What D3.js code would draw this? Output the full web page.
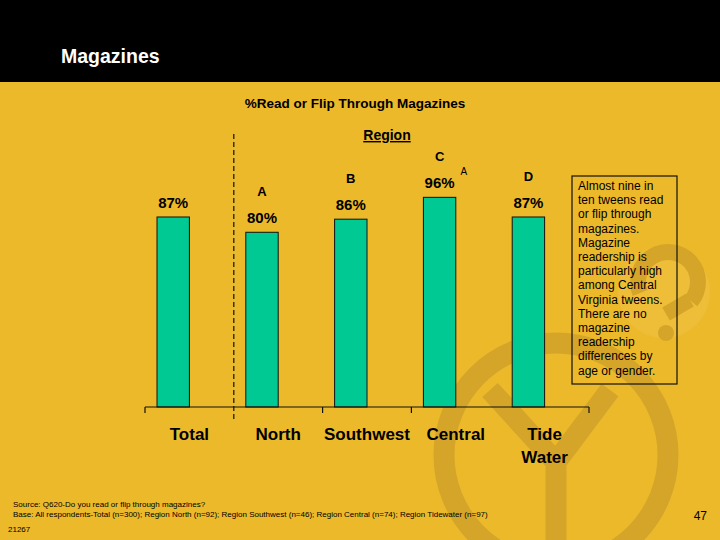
<!DOCTYPE html>
<html>
<head>
<meta charset="utf-8">
<script src="https://cdn.jsdelivr.net/npm/d3@7/dist/d3.min.js"></script>
<style>
  html, body { margin: 0; padding: 0; background: #ecb92b; }
  svg { display: block; font-family: "Liberation Sans", Arial, sans-serif; }
</style>
</head>
<body>
<svg id="chart" width="720" height="540"></svg>
<script>
// data
const categories = ['Total', 'North', 'Southwest', 'Central', 'Tide Water'];
const values = [87, 80, 86, 96, 87];
const sigLetters = ['', 'A', 'B', 'C', 'D'];
const sigSuper = ['', '', '', 'A', ''];
const calloutLines = [
	'Almost nine in', 'ten tweens read', 'or flip through', 'magazines.',
	'Magazine', 'readership is', 'particularly high', 'among Central',
	'Virginia tweens.', 'There are no', 'magazine', 'readership',
	'differences by', 'age or gender.'
];
const sourceLines = [
	'Source: Q620-Do you read or flip through magazines?',
	'Base: All respondents-Total (n=300); Region North (n=92); Region Southwest (n=46); Region Central (n=74); Region Tidewater (n=97)'
];

const W = 720, H = 540;
const bg = '#ecb92b', mark = '#d5a52a', teal = '#00c994';

const svg = d3.select('#chart');

svg.append('rect').attr('width', W).attr('height', H).attr('fill', bg);

// watermark logo (ring + Y + question mark)
let wm = svg.append('g').attr('fill', 'none').attr('stroke', mark);
wm.append('circle').attr('cx', 556).attr('cy', 455).attr('r', 112).attr('stroke-width', 21);
wm.append('path').attr('d', 'M490,390 L556,462 L610,390 M556,462 L556,545').attr('stroke-width', 21);
wm.append('circle').attr('cx', 664).attr('cy', 292).attr('r', 46).attr('fill', '#eebe38').attr('stroke', 'none');
wm.append('path')
	.attr('d', d3.arc()({ innerRadius: 22, outerRadius: 38, startAngle: -Math.PI * 0.62, endAngle: Math.PI * 0.72 }))
	.attr('transform', 'translate(668,282)').attr('fill', mark).attr('stroke', 'none');
wm.append('path').attr('d', 'M690,300 L666,314').attr('stroke-width', 15);
wm.append('circle').attr('cx', 666).attr('cy', 333).attr('r', 8).attr('fill', mark).attr('stroke', 'none');

// header band
svg.append('rect').attr('width', W).attr('height', 82).attr('fill', '#000');
svg.append('text').attr('x', 61).attr('y', 63)
	.attr('fill', '#fff').attr('font-size', 19.5).attr('font-weight', 'bold')
	.text('Magazines');

svg.append('text').attr('x', 355).attr('y', 108).attr('text-anchor', 'middle')
	.attr('font-size', 13.5).attr('font-weight', 'bold')
	.text('%Read or Flip Through Magazines');

svg.append('text').attr('x', 387).attr('y', 140).attr('text-anchor', 'middle')
	.attr('font-size', 14).attr('font-weight', 'bold')
	.attr('text-decoration', 'underline')
	.text('Region');

// scales
const x = d3.scaleBand().domain(categories).range([145, 589]);
const y = d3.scaleLinear().domain([0, 100]).range([407, 188.6]);
const barW = x.bandwidth() / 2 - 12;
const barX = d => x(d) + 12;
const barC = d => barX(d) + barW / 2;

const data = categories.map((c, i) => ({ cat: c, value: values[i], letter: sigLetters[i], sup: sigSuper[i] }));

// bars
svg.append('g').selectAll('rect').data(data).join('rect')
	.attr('x', d => barX(d.cat))
	.attr('y', d => y(d.value))
	.attr('width', barW)
	.attr('height', d => y(0) - y(d.value))
	.attr('fill', teal)
	.attr('stroke', '#111').attr('stroke-width', 1);

// value labels
svg.append('g').selectAll('text').data(data).join('text')
	.attr('x', d => barC(d.cat))
	.attr('y', d => y(d.value) - 9)
	.attr('text-anchor', 'middle')
	.attr('font-size', 15).attr('font-weight', 'bold')
	.text(d => d.value + '%');

// significance letters
svg.append('g').selectAll('text').data(data.filter(d => d.letter)).join('text')
	.attr('x', d => barC(d.cat))
	.attr('y', d => y(d.value) - 36)
	.attr('text-anchor', 'middle')
	.attr('font-size', 13).attr('font-weight', 'bold')
	.text(d => d.letter);

svg.append('g').selectAll('text').data(data.filter(d => d.sup)).join('text')
	.attr('x', d => barC(d.cat) + 21)
	.attr('y', d => y(d.value) - 22)
	.attr('font-size', 10)
	.text(d => d.sup);

// axis: baseline with a few boundary ticks
let axis = svg.append('g').attr('stroke', '#111').attr('stroke-width', 1.2);
axis.append('line').attr('x1', x.range()[0]).attr('x2', x.range()[1])
	.attr('y1', y(0)).attr('y2', y(0));
let tickXs = [x.range()[0], x(categories[2]), x(categories[3]), x.range()[1]];
axis.selectAll('.tick').data(tickXs).join('line')
	.attr('x1', d => d).attr('x2', d => d)
	.attr('y1', y(0)).attr('y2', y(0) + 6);

// dashed divider between total and regions
svg.append('line')
	.attr('x1', x(categories[1])).attr('x2', x(categories[1]))
	.attr('y1', 134).attr('y2', 420)
	.attr('stroke', '#111').attr('stroke-width', 1.2)
	.attr('stroke-dasharray', '5,3');

// category labels
svg.append('g').selectAll('text').data(categories).join('text')
	.attr('x', d => x(d) + x.bandwidth() / 2)
	.attr('y', 440)
	.attr('text-anchor', 'middle')
	.attr('font-size', 17).attr('font-weight', 'bold')
	.selectAll('tspan').data(d => d.split(' ')).join('tspan')
	.attr('x', function() { return d3.select(this.parentNode).attr('x'); })
	.attr('dy', (d, i) => i ? 23 : 0)
	.text(d => d);

// callout box
svg.append('rect').attr('x', 572).attr('y', 176).attr('width', 105).attr('height', 208)
	.attr('fill', 'none').attr('stroke', '#111').attr('stroke-width', 1.2);
svg.append('g').selectAll('text').data(calloutLines).join('text')
	.attr('x', 578).attr('y', (d, i) => 190 + i * 14.2)
	.attr('font-size', 12)
	.text(d => d);

// footer
svg.append('g').selectAll('text').data(sourceLines).join('text')
	.attr('x', 13).attr('y', (d, i) => 507 + i * 10)
	.attr('font-size', 8)
	.text(d => d);
svg.append('text').attr('x', 8).attr('y', 532).attr('font-size', 8).text('21267');
svg.append('text').attr('x', 707).attr('y', 520).attr('text-anchor', 'end')
	.attr('font-size', 12).text('47');
</script>
</body>
</html>
